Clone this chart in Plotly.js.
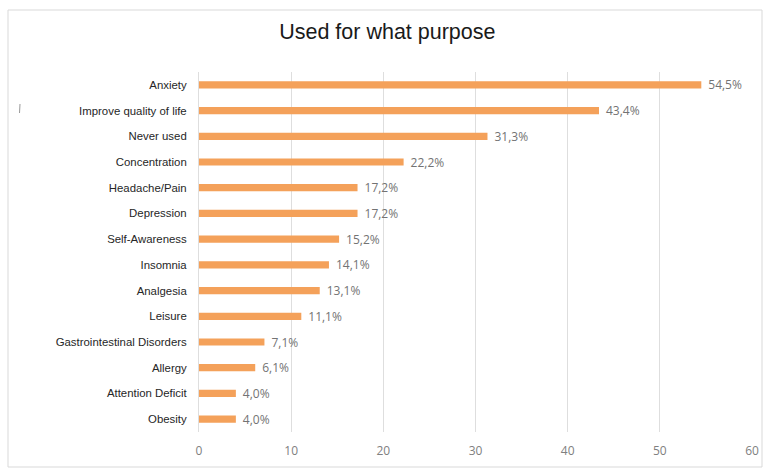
<!DOCTYPE html>
<html>
<head>
<meta charset="utf-8">
<script src="https://cdn.plot.ly/plotly-3.0.1.min.js"></script>
<style>html,body{margin:0;padding:0;background:#fff;}#chart{width:767px;height:470px;}</style>
</head>
<body>
<div id="chart"></div>
<script>
const categories = ["Anxiety","Improve quality of life","Never used","Concentration","Headache/Pain","Depression","Self-Awareness","Insomnia","Analgesia","Leisure","Gastrointestinal Disorders","Allergy","Attention Deficit","Obesity"];
const values = [54.5,43.4,31.3,22.2,17.2,17.2,15.2,14.1,13.1,11.1,7.1,6.1,4.0,4.0];
const xTicks = [0,10,20,30,40,50,60];

const L=199,R=15,T=72,B=38,W=767,H=470;
const pw=W-L-R, ph=H-T-B;
const px=x=>(x-L)/pw, py=y=>(H-B-y)/ph;

Plotly.newPlot('chart',[{
  type:'bar', orientation:'h',
  x:values, y:categories,
  width:0.28,
  marker:{color:'#F4A15A'},
  texttemplate:'\u2009\u2009%{x:.1f}%', textposition:'outside', cliponaxis:false,
  constraintext:'none',
  textfont:{family:'Open Sans, Arial, sans-serif', size:12, color:'#737373'},
  hoverinfo:'skip'
}],{
  width:W,height:H,
  margin:{l:L,r:R,t:T,b:B,pad:0},
  separators:',.',
  paper_bgcolor:'#fff', plot_bgcolor:'#fff',
  showlegend:false,
  title:{text:'Used for what purpose', x:0.505, xanchor:'center', y:0.932, yanchor:'middle',
    font:{family:'Liberation Sans, Arial, sans-serif', size:21.5, color:'#1a1a1a'}},
  xaxis:{range:[0,60], tickvals:xTicks, showgrid:true, gridcolor:'#dedede', gridwidth:1,
    zeroline:false, showline:false, ticks:'', ticklabelstandoff:10,
    tickfont:{family:'Open Sans, sans-serif', size:12, color:'#808080'}, fixedrange:true},
  yaxis:{autorange:'reversed', showgrid:false, zeroline:false, showline:true, linecolor:'#dedede',
    ticks:'', ticklabelstandoff:9,
    tickfont:{family:'Liberation Sans, Arial, sans-serif', size:11.4, color:'#262626'}},
  shapes:[
    {type:'rect', xref:'paper', yref:'paper', x0:px(8), x1:px(762), y0:py(467), y1:py(10),
     line:{color:'#d9d9d9', width:1}, fillcolor:'rgba(0,0,0,0)', layer:'below'},
    {type:'line', xref:'paper', yref:'paper', x0:px(20), x1:px(19.5), y0:py(104), y1:py(113),
     line:{color:'#999', width:1}}
  ]
},{displayModeBar:false, staticPlot:true});
</script>
</body>
</html>
